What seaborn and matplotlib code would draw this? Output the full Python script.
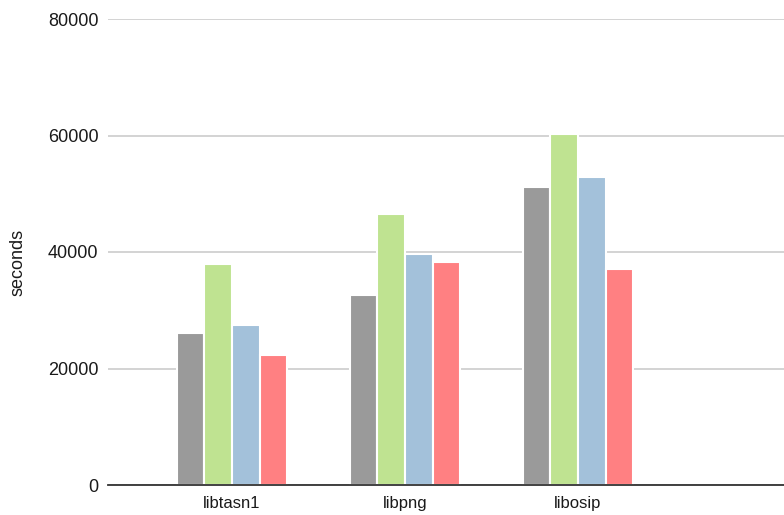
import matplotlib
matplotlib.use("Agg")
import matplotlib.pyplot as plt
import seaborn as sns
import pandas as pd

categories = ["libtasn1", "libpng", "libosip"]
series_names = ["Series 1", "Series 2", "Series 3", "Series 4"]
series1 = [26100, 32600, 51100]
series2 = [38000, 46600, 60200]
series3 = [27500, 39700, 52900]
series4 = [22400, 38300, 37000]
colors = ["#9a9a9a", "#bfe391", "#a3c1da", "#ff8082"]
yticks = [0, 20000, 40000, 60000, 80000]

rows = []
for name, vals in zip(series_names, [series1, series2, series3, series4]):
    for c, v in zip(categories, vals):
        rows.append({"category": c, "series": name, "value": v})
df = pd.DataFrame(rows)

sns.set_theme(style="white")
plt.rcParams['font.family'] = ['Liberation Sans', 'DejaVu Sans']

fig = plt.figure(figsize=(7.84, 5.15), dpi=100)
W, H = 784, 515
left, right, top, bottom = 108, 784, 19, 485
ax = fig.add_axes([left / W, 1 - bottom / H, (right - left) / W, (bottom - top) / H])

sns.barplot(data=df, x="category", y="value", hue="series", order=categories,
            hue_order=series_names, palette=colors, width=0.64, ax=ax,
            edgecolor="white", linewidth=1.5, legend=False, saturation=1)

# x positions: first category centre at pixel 232, spacing 173 px
spacing = 173.0
x_left = -(232 - left) / spacing
x_right = x_left + (right - left) / spacing
ax.set_xlim(x_left, x_right)
ax.set_ylim(0, 80000)
ax.set_yticks(yticks)
ax.set_yticklabels([str(t) for t in yticks])
ax.yaxis.grid(True, color="#cccccc", linewidth=1.2)
ax.set_axisbelow(True)
for s in ["top", "right", "left"]:
    ax.spines[s].set_visible(False)
ax.spines["bottom"].set_color("#333333")
ax.spines["bottom"].set_linewidth(1.3)
ax.spines["bottom"].set_zorder(5)
ax.tick_params(axis="y", length=0, pad=7, labelsize=13, labelcolor="#1a1a1a")
ax.tick_params(axis="x", length=0, pad=8, labelsize=12, labelcolor="#1a1a1a")
ax.set_xlabel("")
ax.set_ylabel("seconds", fontsize=13, color="#1a1a1a")
ax.yaxis.set_label_coords(-(108 - 27) / (right - left), 0.478)

fig.savefig("out.png", dpi=100)
